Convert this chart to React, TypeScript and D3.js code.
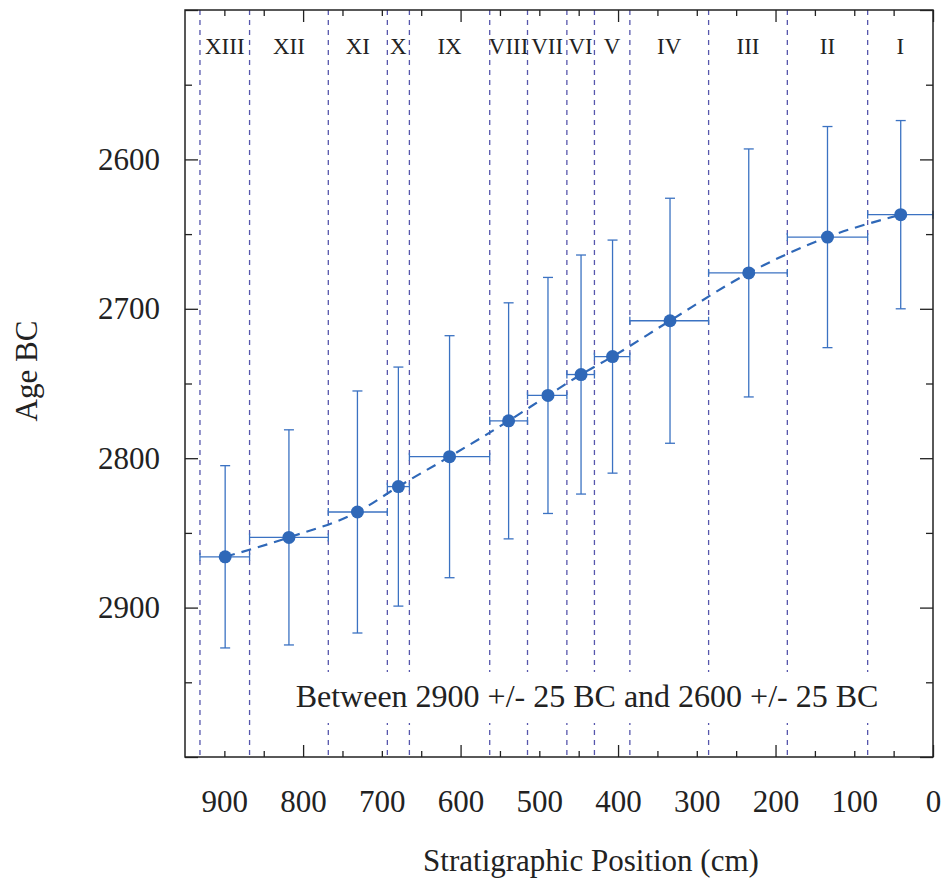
import React, { useRef, useEffect } from 'react';
import * as d3 from 'd3';

// zones, top to bottom of the core (deepest first)
const zones = ['XIII', 'XII', 'XI', 'X', 'IX', 'VIII', 'VII', 'VI', 'V', 'IV', 'III', 'II', 'I'];
// zone boundaries in cm (dashed lines + horizontal error extents)
const zoneBounds = [931, 868, 768, 693, 665, 563, 515, 465, 430, 385, 285, 185, 83, 0];
// sample position (cm) of each zone
const positions = [899, 818, 731, 679, 614, 539, 489, 447, 407, 334, 234, 134, 41];
// modelled age BC and +/- error (years)
const ages = [2866, 2853, 2836, 2819, 2799, 2775, 2758, 2744, 2732, 2708, 2676, 2652, 2637];
const ageErr = [61, 72, 81, 80, 81, 79, 79, 80, 78, 82, 83, 74, 63];

const xLabelTicks = [900, 800, 700, 600, 500, 400, 300, 200, 100, 0];
const xMajorTicks = [800, 600, 400, 200, 0];
const xMinorTicks = [900, 850, 750, 700, 650, 550, 500, 450, 350, 300, 250, 150, 100, 50];
const yLabelTicks = [2600, 2700, 2800, 2900];
const yMajorTicks = [2500, 2600, 2700, 2800, 2900, 3000];
const yMinorTicks = [2550, 2650, 2750, 2850, 2950];

const note = 'Between 2900 +/- 25 BC and 2600 +/- 25 BC';

function App() {
  const svgRef = useRef();

  useEffect(() => {
    document.body.style.margin = '0';
    const svg = d3.select(svgRef.current);
    svg.selectAll('*').remove();

    const left = 185, right = 933, top = 10, bottom = 757;
    const font = '"Liberation Serif", "Times New Roman", serif';
    const blue = '#2f68b8';
    const barColor = '#3b72c2';
    const zoneColor = '#5656ac';

    const x = d3.scaleLinear().domain([950, 0]).range([left, right]);
    const y = d3.scaleLinear().domain([2500, 3000]).range([top, bottom]);

    const data = zones.map((z, i) => ({
      zone: z,
      pos: positions[i],
      age: ages[i],
      err: ageErr[i],
      x0: zoneBounds[i],
      x1: zoneBounds[i + 1]
    }));

    // zone separators
    svg.append('g')
      .selectAll('line')
      .data(zoneBounds.slice(0, -1))
      .enter().append('line')
      .attr('x1', d => x(d)).attr('x2', d => x(d))
      .attr('y1', top).attr('y2', bottom)
      .attr('stroke', zoneColor)
      .attr('stroke-width', 1.3)
      .attr('stroke-dasharray', '5,5');

    // zone labels
    svg.append('g')
      .selectAll('text')
      .data(data)
      .enter().append('text')
      .attr('x', d => x((d.x0 + d.x1) / 2))
      .attr('y', 54)
      .attr('text-anchor', 'middle')
      .style('font-family', font)
      .style('font-size', '23px')
      .attr('fill', '#222')
      .text(d => d.zone);

    // note with white box behind it
    svg.append('rect')
      .attr('x', 290).attr('y', 672)
      .attr('width', 596).attr('height', 51)
      .attr('fill', 'white');
    svg.append('text')
      .attr('x', 587).attr('y', 707)
      .attr('text-anchor', 'middle')
      .style('font-family', font)
      .style('font-size', '32px')
      .attr('fill', '#222')
      .text(note);

    // fitted curve
    const line = d3.line()
      .x(d => x(d.pos))
      .y(d => y(d.age))
      .curve(d3.curveMonotoneX);
    svg.append('path')
      .datum(data)
      .attr('d', line)
      .attr('fill', 'none')
      .attr('stroke', blue)
      .attr('stroke-width', 2.2)
      .attr('stroke-dasharray', '10,7');

    // error bars
    const bars = svg.append('g')
      .attr('stroke', barColor)
      .attr('stroke-width', 1.3)
      .attr('fill', 'none');

    data.forEach(d => {
      const cx = x(d.pos), cy = y(d.age);
      const yt = y(d.age - d.err), yb = y(d.age + d.err);
      const xl = x(d.x0), xr = x(d.x1);
      bars.append('line').attr('x1', cx).attr('x2', cx).attr('y1', yt).attr('y2', yb);
      bars.append('line').attr('x1', cx - 5).attr('x2', cx + 5).attr('y1', yt).attr('y2', yt);
      bars.append('line').attr('x1', cx - 5).attr('x2', cx + 5).attr('y1', yb).attr('y2', yb);
      bars.append('line').attr('x1', xl).attr('x2', xr).attr('y1', cy).attr('y2', cy);
      bars.append('line').attr('x1', xl).attr('x2', xl).attr('y1', cy - 4).attr('y2', cy + 4);
      bars.append('line').attr('x1', xr).attr('x2', xr).attr('y1', cy - 4).attr('y2', cy + 4);
    });

    // points
    svg.append('g')
      .attr('fill', blue)
      .selectAll('circle')
      .data(data)
      .enter().append('circle')
      .attr('cx', d => x(d.pos))
      .attr('cy', d => y(d.age))
      .attr('r', 6.5);

    // ticks on all four sides, pointing inward
    const tickG = svg.append('g').attr('class', 'ticks');
    const styleTicks = g => {
      g.select('.domain').remove();
      g.selectAll('line').attr('stroke', '#222').attr('stroke-width', 1.3);
      g.selectAll('text').remove();
    };
    tickG.append('g').attr('transform', `translate(0,${bottom})`)
      .call(d3.axisBottom(x).tickValues(xMajorTicks).tickSize(-12)).call(styleTicks);
    tickG.append('g').attr('transform', `translate(0,${bottom})`)
      .call(d3.axisBottom(x).tickValues(xMinorTicks).tickSize(-6)).call(styleTicks);
    tickG.append('g').attr('transform', `translate(0,${top})`)
      .call(d3.axisTop(x).tickValues(xMajorTicks).tickSize(-12)).call(styleTicks);
    tickG.append('g').attr('transform', `translate(0,${top})`)
      .call(d3.axisTop(x).tickValues(xMinorTicks).tickSize(-6)).call(styleTicks);
    tickG.append('g').attr('transform', `translate(${left},0)`)
      .call(d3.axisLeft(y).tickValues(yMajorTicks).tickSize(-13)).call(styleTicks);
    tickG.append('g').attr('transform', `translate(${left},0)`)
      .call(d3.axisLeft(y).tickValues(yMinorTicks).tickSize(-7)).call(styleTicks);
    tickG.append('g').attr('transform', `translate(${right},0)`)
      .call(d3.axisRight(y).tickValues(yMajorTicks).tickSize(-13)).call(styleTicks);
    tickG.append('g').attr('transform', `translate(${right},0)`)
      .call(d3.axisRight(y).tickValues(yMinorTicks).tickSize(-7)).call(styleTicks);

    // tick labels
    const styleLabels = g => {
      g.select('.domain').remove();
      g.selectAll('line').remove();
      g.selectAll('text')
        .style('font-family', font)
        .style('font-size', '31px')
        .attr('fill', '#222');
    };
    svg.append('g').attr('transform', `translate(0,${bottom})`)
      .call(d3.axisBottom(x).tickValues(xLabelTicks).tickSize(0).tickPadding(33).tickFormat(d3.format('d')))
      .call(styleLabels);
    svg.append('g').attr('transform', `translate(${left},0)`)
      .call(d3.axisLeft(y).tickValues(yLabelTicks).tickSize(0).tickPadding(25).tickFormat(d3.format('d')))
      .call(styleLabels);

    // frame
    svg.append('rect')
      .attr('x', left).attr('y', top)
      .attr('width', right - left).attr('height', bottom - top)
      .attr('fill', 'none')
      .attr('stroke', '#222')
      .attr('stroke-width', 1.5);

    // axis titles
    svg.append('text')
      .attr('x', 591).attr('y', 871)
      .attr('text-anchor', 'middle')
      .style('font-family', font)
      .style('font-size', '31px')
      .attr('fill', '#222')
      .text('Stratigraphic Position (cm)');
    svg.append('text')
      .attr('transform', 'translate(37,371) rotate(-90)')
      .attr('text-anchor', 'middle')
      .style('font-family', font)
      .style('font-size', '31px')
      .attr('fill', '#222')
      .text('Age BC');
  }, []);

  return (
    <svg ref={svgRef} width={946} height={885} style={{ display: 'block', background: 'white' }}></svg>
  );
}

export default App;
